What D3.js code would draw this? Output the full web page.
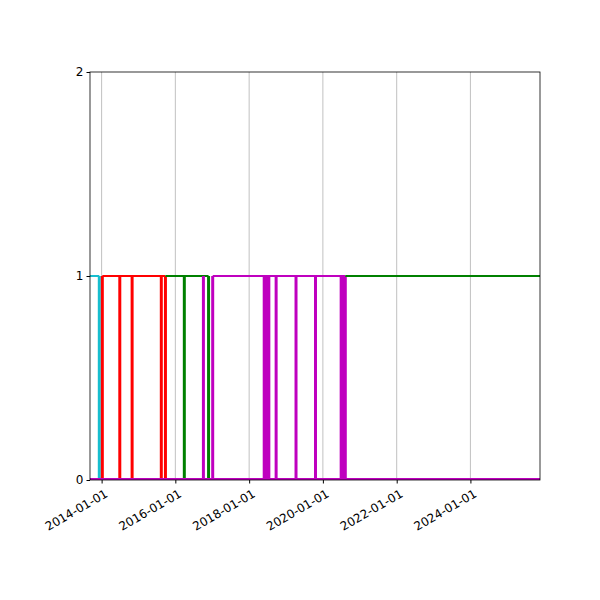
<!DOCTYPE html><html><head><script src="https://cdn.jsdelivr.net/npm/d3@7"></script>
<style>body{margin:0;background:#fff}</style></head><body><svg id="c" width="600" height="600"></svg>
<script>
const xDomain=["2013-09-08","2025-11-20"];
const yTicks=[0,1,2];
const xTicks=["2014-01-01","2016-01-01","2018-01-01","2020-01-01","2022-01-01","2024-01-01"];
const seriesNames=["cyan","red","green","magenta"];
const seriesColors=["#17becf","red","green","#bf00bf"];
const seriesSpans=[["2013-09-08","2013-12-09"],["2014-01-08","2015-09-25"],["2015-09-25","2016-11-25"],["2017-01-05","2020-08-10"]];
const seriesDrops=[
 ["2013-12-09"],
 ["2014-01-08","2014-06-30","2014-10-30","2015-08-15","2015-09-25"],
 ["2016-03-30","2016-11-25"],
 ["2016-10-05","2017-01-05","2018-05-30","2018-06-15","2018-07-01","2018-07-15","2018-09-25","2019-04-10","2019-10-20","2020-06-30","2020-07-15","2020-08-01","2020-08-10"]
];
const greenTail=["2020-08-10","2025-11-20"];
const p=d3.timeParse("%Y-%m-%d");
const svg=d3.select("#c");
const L=90,R=540,T=72,B=480;
const x=d3.scaleTime().domain(xDomain.map(p)).range([L,R]);
const y=d3.scaleLinear().domain([0,2]).range([B,T]);
const g=svg.append("g");
xTicks.forEach(t=>g.append("line").attr("x1",x(p(t))).attr("x2",x(p(t))).attr("y1",T).attr("y2",B).attr("stroke","#b0b0b0").attr("stroke-width",0.8));
const W=2;
seriesNames.forEach((n,i)=>{
 const c=seriesColors[i];
 const s=seriesSpans[i];
 g.append("line").attr("x1",x(p(s[0]))).attr("x2",x(p(s[1]))).attr("y1",y(1)).attr("y2",y(1)).attr("stroke",c).attr("stroke-width",W);
 seriesDrops[i].forEach(d=>{g.append("line").attr("x1",x(p(d))).attr("x2",x(p(d))).attr("y1",y(1)).attr("y2",y(0)).attr("stroke",c).attr("stroke-width",W+1);});
});
g.append("line").attr("x1",x(p(greenTail[0]))).attr("x2",x(p(greenTail[1]))).attr("y1",y(1)).attr("y2",y(1)).attr("stroke","green").attr("stroke-width",W);
g.append("line").attr("x1",L).attr("x2",R).attr("y1",y(0)-1).attr("y2",y(0)-1).attr("stroke","#bf00bf").attr("stroke-width",W);
svg.append("rect").attr("x",L).attr("y",T).attr("width",R-L).attr("height",B-T).attr("fill","none").attr("stroke","#000").attr("stroke-width",0.8);
const fmt=d3.timeFormat("%Y-%m-%d");
const xa=svg.append("g").attr("transform",`translate(0,${B})`).call(d3.axisBottom(x).tickValues(xTicks.map(p)).tickFormat(fmt).tickSize(3.5).tickSizeOuter(0));
xa.select(".domain").remove();
xa.selectAll("text").attr("font-family","DejaVu Sans").attr("font-size",12).attr("fill","#000").attr("text-anchor","end").attr("transform","rotate(-30)").attr("dx","-0.2em").attr("dy","0.9em");
const ya=svg.append("g").attr("transform",`translate(${L},0)`).call(d3.axisLeft(y).tickValues(yTicks).tickFormat(d3.format("d")).tickSize(3.5).tickSizeOuter(0));
ya.select(".domain").remove();
ya.selectAll("text").attr("font-family","DejaVu Sans").attr("font-size",12).attr("fill","#000");
</script></body></html>
